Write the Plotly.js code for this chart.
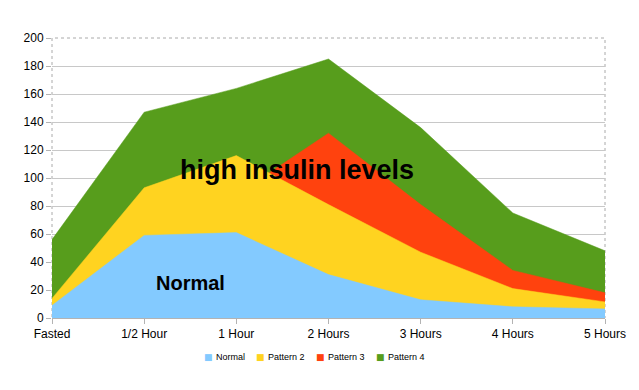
<!DOCTYPE html>
<html>
<head>
<meta charset="utf-8">
<script src="https://cdn.plot.ly/plotly-3.0.1.min.js"></script>
<style>html,body{margin:0;padding:0;background:#fff;}#chart{width:639px;height:390px;}</style>
</head>
<body>
<div id="chart"></div>
<script>
const categories = ["Fasted", "1/2 Hour", "1 Hour", "2 Hours", "3 Hours", "4 Hours", "5 Hours"];
const normal   = [9, 59, 61, 31, 13, 8, 6.5];
const pattern2 = [14, 93, 116, 81, 47, 21, 11.5];
const pattern3 = [12, 75, 88, 132, 81, 34, 18];
const pattern4 = [56, 147, 164, 185, 136, 75, 48];
const yTicks = [0, 20, 40, 60, 80, 100, 120, 140, 160, 180, 200];

const seriesNames = ["Pattern 4", "Pattern 3", "Pattern 2", "Normal"];
const seriesData = [pattern4, pattern3, pattern2, normal];
const colors = ["#579D1C", "#FF420E", "#FFD320", "#83CAFF"];

const traces = seriesNames.map((n, i) => ({
  type: "scatter",
  mode: "lines",
  name: n,
  x: categories,
  y: seriesData[i],
  fill: "tozeroy",
  fillcolor: colors[i],
  line: {width: 0.5, color: colors[i]},
  showlegend: false,
  hoverinfo: "skip"
}));

// compact legend drawn as text (legend order: Normal, Pattern 2, Pattern 3, Pattern 4)
const W = 639, H = 390, ML = 52, MR = 34, MT = 38, MB = 72;
const pw = W - ML - MR, ph = H - MT - MB;
const legendOrder = [3, 2, 1, 0];
const legendKeyPx = [208.5, 260.5, 320, 380];
const legendY = -(357 - (H - MB)) / ph;
const legendAnn = [];
legendOrder.forEach((si, k) => {
  legendAnn.push({
    text: "■", xref: "paper", yref: "paper", x: (legendKeyPx[k] - ML) / pw, y: legendY,
    xanchor: "center", yanchor: "middle", showarrow: false,
    font: {size: 9, color: colors[si], family: "DejaVu Sans"}
  });
  legendAnn.push({
    text: seriesNames[si], xref: "paper", yref: "paper", x: (legendKeyPx[k] + 5.5 - ML) / pw, y: legendY,
    xanchor: "left", yanchor: "middle", showarrow: false,
    font: {size: 9, color: "#000"}
  });
});

const layout = {
  width: W, height: H,
  margin: {l: ML, r: MR, t: MT, b: MB, autoexpand: false},
  paper_bgcolor: "#fff", plot_bgcolor: "#fff",
  font: {family: "Liberation Sans, Arial, sans-serif", size: 12, color: "#000"},
  showlegend: false,
  xaxis: {
    type: "category", range: [0, 6], showgrid: false, zeroline: false,
    showline: true, linecolor: "#b3b3b3", linewidth: 1,
    ticks: "outside", ticklen: 5, tickcolor: "#b3b3b3",
    tickfont: {size: 12, color: "#000"}
  },
  yaxis: {
    range: [0, 200], tickvals: yTicks, ticktext: yTicks.map(String),
    showgrid: true, gridcolor: "#c8c8c8", gridwidth: 1, zeroline: false,
    showline: false, ticks: "outside", ticklen: 5, tickcolor: "#b3b3b3",
    tickfont: {size: 12, color: "#000"}
  },
  shapes: [{
    type: "rect", xref: "paper", yref: "paper", x0: 0, x1: 1, y0: 0, y1: 1,
    line: {color: "#aaaaaa", width: 1, dash: "dot"}, layer: "below"
  }],
  annotations: [
    {text: "<b>high insulin levels</b>", xref: "paper", yref: "y", x: 0.443, y: 106,
     showarrow: false, font: {size: 27, color: "#000"}, xanchor: "center"},
    {text: "<b>Normal</b>", xref: "paper", yref: "y", x: 0.25, y: 25,
     showarrow: false, font: {size: 20, color: "#000"}, xanchor: "center"}
  ].concat(legendAnn)
};

Plotly.newPlot("chart", traces, layout, {displayModeBar: false, staticPlot: true});
</script>
</body>
</html>
